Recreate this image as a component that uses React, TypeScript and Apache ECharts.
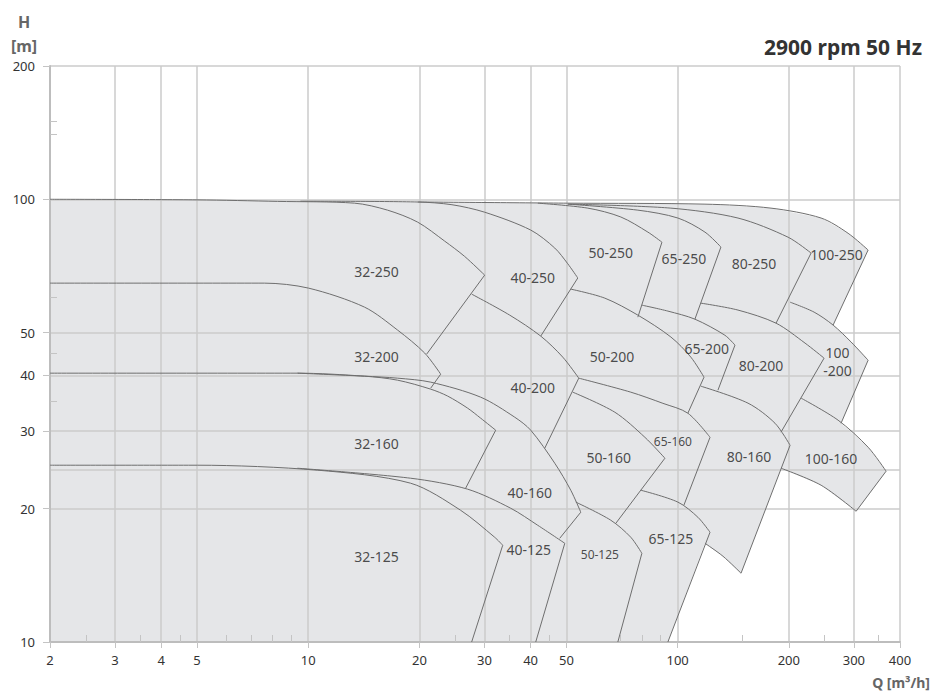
import React, { useEffect, useRef } from "react";
import * as echarts from "echarts";

type P = [number, number];

// ---------- axes ----------
const X_LABELS = [2, 3, 4, 5, 10, 20, 30, 40, 50, 100, 200, 300, 400];
const X_MINOR = [2.5, 3.5, 4.5, 6, 7, 8, 9, 25, 35, 45, 70, 80, 90, 150, 250, 350];
const Y_LABELS = [10, 20, 30, 40, 50, 100, 200];
const Y_EXTRA_GRID = [24.5];
const Y_MINOR = [35, 45, 60, 140, 150];

// ---------- pump names and label anchors (Q m3/h, H m) ----------
const NAMES = [
  "32-250", "40-250", "50-250", "65-250", "80-250", "100-250",
  "32-200", "40-200", "50-200", "65-200", "80-200", "100-200",
  "32-160", "40-160", "50-160", "65-160", "80-160", "100-160",
  "32-125", "40-125", "50-125", "65-125",
];
const LABEL_AT: P[] = [
  [15.31, 68.8], [40.54, 66.7], [65.94, 76.0], [104.0, 73.6], [161.0, 71.7], [269.2, 75.2],
  [15.31, 44.2], [40.54, 37.6], [66.4, 44.2], [120.0, 46.1], [168.2, 42.2], [270.9, 43.1],
  [15.31, 28.13], [39.8, 21.8], [65.1, 26.15], [97.1, 28.4], [156.1, 26.3], [260.3, 26.0],
  [15.31, 15.62], [39.54, 16.2], [61.6, 15.79], [95.9, 17.15],
];

// ---------- max-impeller curves (Q, H) ----------
const T_32_250: P[] = [[2, 100], [5, 99.7], [8.26, 98.9], [13.35, 98.0], [16.4, 94.5], [19.78, 88.8], [23.41, 80.45], [26.51, 74.3], [30.04, 67.4]];
const T_40_250: P[] = [[9.53, 99.0], [19.78, 98.6], [24.5, 97.2], [30.04, 93.5], [40.03, 85.2], [46.5, 77.6], [50.43, 71.5], [53.68, 66.4]];
const T_50_250: P[] = [[41.82, 98.0], [57.14, 95.5], [70.19, 91.2], [83.09, 84.3], [90.7, 80.0]];
const T_65_250: P[] = [[50.43, 97.5], [78.06, 94.5], [100.2, 90.7], [118.6, 84.3], [131.0, 78.0]];
const T_80_250: P[] = [[50.43, 97.5], [95.9, 95.5], [145.7, 90.7], [199.1, 82.1], [229.8, 75.6]];
const T_100_250: P[] = [[19.78, 98.6], [50.43, 98.0], [118.6, 97.5], [179.0, 95.5], [244.6, 90.7], [289.4, 83.8], [327.9, 76.8]];

const T_32_200: P[] = [[2, 64.65], [7.61, 64.65], [10.02, 63.0], [14.21, 57.06], [17.46, 50.64], [20.67, 44.94], [22.84, 40.27]];
const T_40_200: P[] = [[27.7, 61.06], [35.12, 54.74], [42.61, 49.08], [48.88, 44.0], [54.01, 39.44]];
const T_50_200: P[] = [[51.38, 62.67], [63.53, 59.8], [78.06, 54.74], [95.9, 48.85], [108.6, 44.0], [117.9, 39.65]];
const T_65_200: P[] = [[80.03, 57.66], [94.12, 55.9], [111.4, 53.6], [134.3, 49.3], [143.0, 46.84]];
const T_80_200: P[] = [[115.6, 58.26], [145.7, 56.2], [184.7, 52.5], [221.3, 47.33], [249.2, 43.77]];
const T_100_200: P[] = [[201.6, 58.56], [234.2, 55.6], [263.6, 51.98], [294.9, 47.6], [327.9, 43.3]];

const T_32_160: P[] = [[2, 40.48], [9.35, 40.48], [14.21, 39.85], [17.46, 39.03], [21.46, 37.25], [23.85, 35.93], [27.02, 33.74], [29.3, 32.03], [32.18, 30.09]];
const T_40_160: P[] = [[9.35, 40.48], [14.21, 39.85], [17.46, 39.44], [21.46, 38.63], [29.3, 35.73], [36.24, 32.19], [40.03, 30.09], [46.5, 25.34], [51.38, 22.02], [54.69, 19.64]];
const T_50_160: P[] = [[52.03, 36.67], [67.62, 33.04], [81.55, 29.0], [92.4, 26.01]];
const T_65_160: P[] = [[54.01, 39.44], [74.7, 36.67], [91.25, 34.6], [106.6, 32.87], [122.4, 29.0]];
const T_80_160: P[] = [[115.6, 37.83], [155.1, 34.63], [183.5, 31.2], [201.6, 27.82]];
const T_100_160: P[] = [[215.9, 35.55], [271.9, 31.7], [327.9, 27.54], [366.8, 24.31]];

const T_32_125: P[] = [[2, 25.08], [5.01, 25.08], [10.6, 24.44], [18.93, 22.84], [25.86, 19.84], [31.98, 17.24], [33.62, 16.54]];
const T_40_125: P[] = [[9.35, 24.69], [18.93, 23.44], [27.02, 22.14], [35.34, 20.05], [41.82, 18.35], [49.5, 16.71]];
const T_50_125: P[] = [[53.01, 20.7], [65.94, 18.84], [74.7, 17.24], [80.03, 15.86]];
const T_65_125: P[] = [[79.53, 22.02], [100.2, 20.7], [113.5, 19.13], [122.4, 17.7]];

const TOPS: P[][] = [
  T_32_250, T_40_250, T_50_250, T_65_250, T_80_250, T_100_250,
  T_32_200, T_40_200, T_50_200, T_65_200, T_80_200, T_100_200,
  T_32_160, T_40_160, T_50_160, T_65_160, T_80_160, T_100_160,
  T_32_125, T_40_125, T_50_125, T_65_125,
];

// lower end of each curve's end-of-range edge (Q, H)
const EDGE_END: P[] = [
  [20.93, 44.7], [42.61, 49.08], [78.06, 54.17], [111.4, 53.6], [184.7, 52.5], [263.6, 51.98],
  [21.46, 37.44], [43.69, 27.4], [106.6, 32.87], [128.6, 37.05], [190.5, 29.78], [277.0, 31.2],
  [26.68, 22.25], [47.97, 17.15], [68.04, 18.54], [104.0, 20.37], [148.5, 14.3], [304.3, 19.74],
  [27.7, 10], [41.3, 10], [68.9, 10], [94.12, 10],
];

// min-impeller curves that are visible on their own
const B_100_160: P[] = [[190.5, 24.69], [244.6, 22.6], [304.3, 19.74]];
const B_80_160: P[] = [[118.6, 16.71], [132.7, 15.62], [148.5, 14.3]];

// outer envelope of all operating ranges (shaded area)
const ENVELOPE: P[] = [
  [2, 10], [2, 100], [19.78, 98.8], [50.43, 98.0], [118.6, 97.5], [179.0, 95.5], [244.6, 90.7],
  [289.4, 83.8], [327.9, 76.8], [263.6, 51.98], [294.9, 47.6], [327.9, 43.3], [277.0, 31.2],
  [327.9, 27.54], [366.8, 24.31], [304.3, 19.74], [244.6, 22.6], [190.5, 24.69], [148.5, 14.3],
  [132.7, 15.62], [118.6, 16.71], [94.12, 10],
];

const SMALL_LABELS = ["50-125", "65-160"];

const FONT = '"Noto Sans", "DejaVu Sans", sans-serif';
const GRID_C = "#cbcbcb";
const CURVE_C = "#6e6e6e";
const FILL_C = "#e5e6e8";

const fmt = (v: number) => String(Math.round(v * 1000) / 1000);

export default function App() {
  const ref = useRef<HTMLDivElement>(null);

  useEffect(() => {
    if (!ref.current) return;
    const chart = echarts.init(ref.current, null, { renderer: "svg" });

    const lineSeries: any[] = [];
    const addLine = (pts: P[], smooth: number) => {
      lineSeries.push({
        type: "line",
        data: pts,
        smooth,
        symbol: "none",
        silent: true,
        z: 5,
        xAxisIndex: 0,
        yAxisIndex: 0,
        lineStyle: { color: CURVE_C, width: 1 },
      });
    };
    TOPS.forEach((top, i) => {
      addLine(top, 0.3);
      addLine([top[top.length - 1], EDGE_END[i]], 0);
    });
    addLine(B_100_160, 0.3);
    addLine(B_80_160, 0.3);

    const option: any = {
      animation: false,
      grid: { left: 50, right: 38, top: 66, bottom: 51, containLabel: false, outerBoundsMode: "none" },
      xAxis: [
        {
          type: "log",
          logBase: 10,
          min: 2,
          max: 400,
          z: 3,
          axisLine: { show: true, onZero: false, lineStyle: { color: "#bdbdbd", width: 2 } },
          axisTick: { show: true, customValues: X_LABELS, length: 6, lineStyle: { color: "#c4c4c4", width: 1 } },
          axisLabel: { customValues: X_LABELS, formatter: fmt, margin: 11, fontSize: 13, color: "#333", fontFamily: FONT },
          splitLine: { show: true, lineStyle: { color: GRID_C, width: 1.5 } },
        },
        {
          type: "log",
          logBase: 10,
          min: 2,
          max: 400,
          position: "bottom",
          z: 3,
          axisLine: { show: false },
          axisTick: { show: true, inside: true, customValues: X_MINOR, length: 7, lineStyle: { color: "#c4c4c4", width: 1 } },
          axisLabel: { show: false },
          splitLine: { show: false },
        },
      ],
      yAxis: [
        {
          type: "log",
          logBase: 10,
          min: 10,
          max: 200,
          z: 3,
          axisLine: { show: true, onZero: false, lineStyle: { color: "#bdbdbd", width: 2 } },
          axisTick: { show: true, customValues: Y_LABELS, length: 7, lineStyle: { color: "#c4c4c4", width: 1 } },
          axisLabel: { customValues: Y_LABELS, formatter: fmt, margin: 15, fontSize: 13, color: "#333", fontFamily: FONT },
          splitLine: { show: true, lineStyle: { color: GRID_C, width: 1.5 } },
        },
        {
          type: "log",
          logBase: 10,
          min: 10,
          max: 200,
          position: "left",
          z: 3,
          axisLine: { show: false },
          axisTick: { show: true, inside: true, customValues: Y_MINOR, length: 7, lineStyle: { color: "#c4c4c4", width: 1 } },
          axisLabel: { show: false },
          splitLine: { show: false },
        },
        {
          type: "log",
          logBase: 10,
          min: 10,
          max: 200,
          position: "left",
          z: 3,
          axisLine: { show: false },
          axisTick: { show: false, customValues: Y_EXTRA_GRID },
          axisLabel: { show: false },
          splitLine: { show: true, lineStyle: { color: GRID_C, width: 1.5 } },
        },
      ],
      series: [
        {
          type: "custom",
          z: 2,
          silent: true,
          xAxisIndex: 0,
          yAxisIndex: 0,
          data: [[10, 20]],
          renderItem: (_params: any, api: any) => ({
            type: "polygon",
            shape: { points: ENVELOPE.map((p) => api.coord(p)) },
            style: { fill: FILL_C, stroke: "none" },
          }),
        },
        ...lineSeries,
        {
          type: "scatter",
          z: 6,
          silent: true,
          symbolSize: 1,
          itemStyle: { color: "rgba(0,0,0,0)" },
          data: NAMES.map((n, i) => ({
            name: n,
            value: LABEL_AT[i],
            label: { fontSize: SMALL_LABELS.includes(n) ? 12 : 14 },
          })),
          label: {
            show: true,
            position: "inside",
            formatter: (p: any) => (p.name === "100-200" ? "100\n-200" : p.name),
            color: "#222",
            fontFamily: FONT,
            fontSize: 14,
            lineHeight: 18,
          },
        },
      ],
      graphic: [
        {
          type: "text",
          x: 24,
          y: 22,
          style: { text: "H", font: `bold 16px ${FONT}`, fill: "#666", align: "center", verticalAlign: "middle", textAlign: "center", textVerticalAlign: "middle" },
        },
        {
          type: "text",
          x: 24,
          y: 46,
          style: { text: "[m]", font: `bold 16px ${FONT}`, fill: "#666", align: "center", verticalAlign: "middle", textAlign: "center", textVerticalAlign: "middle" },
        },
        {
          type: "text",
          x: 922,
          y: 47,
          style: { text: "2900 rpm 50 Hz", font: `bold 21px ${FONT}`, fill: "#333", align: "right", verticalAlign: "middle", textAlign: "right", textVerticalAlign: "middle" },
        },
        {
          type: "text",
          x: 930,
          y: 682,
          style: { text: "Q [m³/h]", font: `bold 14px ${FONT}`, fill: "#666", align: "right", verticalAlign: "middle", textAlign: "right", textVerticalAlign: "middle" },
        },
      ],
    };

    chart.setOption(option);
    return () => chart.dispose();
  }, []);

  return <div ref={ref} style={{ position: "absolute", left: 0, top: 0, width: 938, height: 693 }} />;
}
